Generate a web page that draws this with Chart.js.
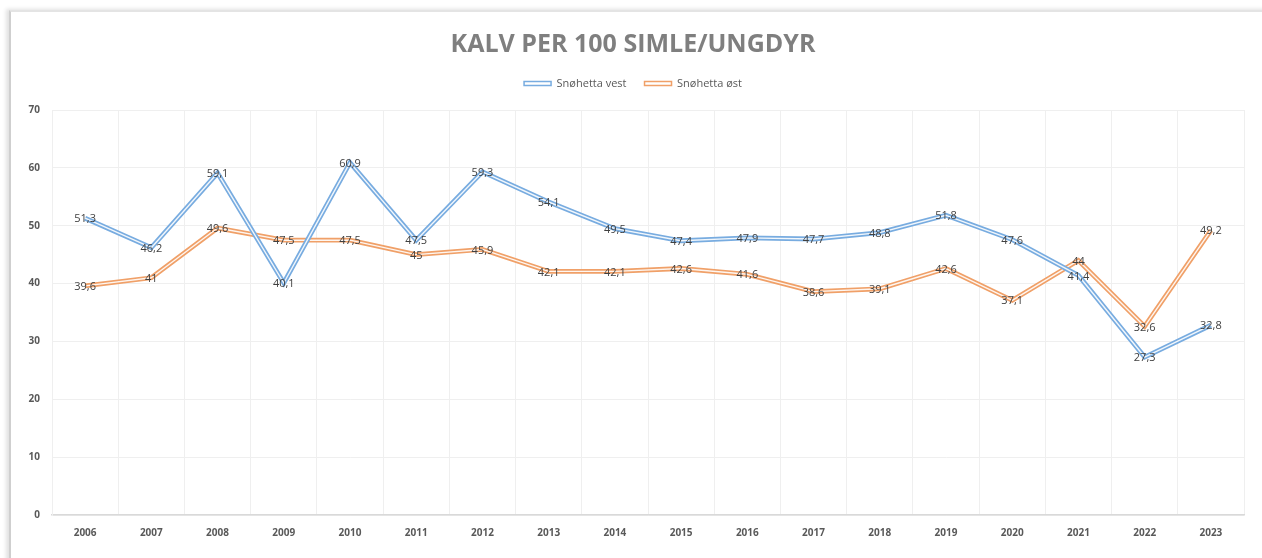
<!DOCTYPE html>
<html>
<head>
<meta charset="utf-8">
<script src="https://cdn.jsdelivr.net/npm/chart.js@4.4.1/dist/chart.umd.min.js"></script>
<style>
  html, body { margin: 0; padding: 0; background: #fff; }
  body { width: 1262px; height: 558px; position: relative; overflow: hidden; }
  .frame {
    position: absolute; left: 9px; top: 10px; right: -10px; bottom: -10px;
    border-top: 2px solid #e4e4e4; border-left: 2px solid #cfcfcf;
    box-shadow: -3px -1px 4px rgba(0,0,0,0.12);
  }
  #wrap { position: absolute; left: 0; top: 0; width: 1262px; height: 558px; }
</style>
</head>
<body>
<div class="frame"></div>
<div id="wrap"><canvas id="chart"></canvas></div>
<script>
  // verdier lest av figuren
  const years = ["2006", "2007", "2008", "2009", "2010", "2011", "2012", "2013", "2014",
                 "2015", "2016", "2017", "2018", "2019", "2020", "2021", "2022", "2023"];
  const vest = [51.3, 46.2, 59.1, 40.1, 60.9, 47.5, 59.3, 54.1, 49.5,
                47.4, 47.9, 47.7, 48.8, 51.8, 47.6, 41.4, 27.3, 32.8];
  const ost  = [39.6, 41, 49.6, 47.5, 47.5, 45, 45.9, 42.1, 42.1,
                42.6, 41.6, 38.6, 39.1, 42.6, 37.1, 44, 32.6, 49.2];
  const yTicks = [0, 10, 20, 30, 40, 50, 60, 70];

  const blue = "#78ace0";
  const orange = "#f0a068";
  const fontFam = "'Open Sans', 'Noto Sans', sans-serif";

  // dobbel linje: hvit stripe midt i hver serie
  const doubleLine = {
    id: "doubleLine",
    afterDatasetDraw(chart, args) {
      const pts = args.meta.data;
      const ctx = chart.ctx;
      ctx.save();
      ctx.beginPath();
      pts.forEach((p, i) => i ? ctx.lineTo(p.x, p.y) : ctx.moveTo(p.x, p.y));
      ctx.strokeStyle = "rgba(255,255,255,0.9)";
      ctx.lineWidth = 1.4;
      ctx.lineJoin = "round";
      ctx.stroke();
      ctx.restore();
    }
  };

  // dataetiketter midt på punktene
  const valueLabels = {
    id: "valueLabels",
    afterDatasetsDraw(chart) {
      const ctx = chart.ctx;
      ctx.save();
      ctx.font = "11px " + fontFam;
      ctx.fillStyle = "#404040";
      ctx.textAlign = "center";
      ctx.textBaseline = "middle";
      chart.data.datasets.forEach((ds, di) => {
        chart.getDatasetMeta(di).data.forEach((p, i) => {
          ctx.fillText(String(ds.data[i]).replace(".", ","), p.x, p.y + 1);
        });
      });
      ctx.restore();
    }
  };

  // litt luft mellom forklaring og plottet
  const spacer = {
    id: "spacer",
    beforeInit(chart) {
      Chart.layouts.addBox(chart, {
        position: "top", weight: 500, fullSize: true, options: {},
        top: 0, left: 0, right: 0, bottom: 0, width: 0, height: 0,
        update(maxW) { this.width = maxW; this.height = 11; },
        isHorizontal() { return true; },
        draw() {}
      });
    }
  };

  new Chart(document.getElementById("chart"), {
    type: "line",
    data: {
      labels: years,
      datasets: [
        { label: "Snøhetta vest", data: vest, borderColor: blue, backgroundColor: "#fff",
          borderWidth: 4.8, pointRadius: 0, tension: 0 },
        { label: "Snøhetta øst", data: ost, borderColor: orange, backgroundColor: "#fff",
          borderWidth: 4.8, pointRadius: 0, tension: 0 }
      ]
    },
    plugins: [spacer, doubleLine, valueLabels],
    options: {
      responsive: true,
      maintainAspectRatio: false,
      animation: false,
      layout: { padding: { left: 22, right: 18, top: 30, bottom: 0 } },
      plugins: {
        title: {
          display: true,
          text: "KALV PER 100 SIMLE/UNGDYR",
          color: "#7f7f7f",
          font: { family: fontFam, size: 25, weight: "bold" },
          padding: { top: 0, bottom: 0 }
        },
        legend: {
          labels: {
            color: "#595959",
            font: { family: fontFam, size: 11 },
            boxWidth: 27,
            boxHeight: 4,
            padding: 18,
            generateLabels(chart) {
              return chart.data.datasets.map((ds, i) => ({
                text: ds.label, fillStyle: "#fff", strokeStyle: ds.borderColor,
                lineWidth: 1.5, datasetIndex: i, fontColor: "#595959"
              }));
            }
          }
        },
        tooltip: { enabled: false }
      },
      scales: {
        x: {
          offset: true,
          grid: { color: "#efefef", offset: true, drawTicks: false },
          border: { color: "#d9d9d9", width: 1.5 },
          ticks: { color: "#595959", font: { family: fontFam, size: 10, weight: "bold" }, padding: 12 },
          afterFit(s) { s.height = 43; }
        },
        y: {
          min: 0,
          max: 70,
          afterBuildTicks(s) { s.ticks = yTicks.map(v => ({ value: v })); },
          grid: { color: "#efefef", drawTicks: false },
          border: { color: "#efefef" },
          ticks: { color: "#595959", font: { family: fontFam, size: 10, weight: "bold" }, padding: 12 },
          afterFit(s) { s.width = 30; }
        }
      }
    }
  });
</script>
</body>
</html>
